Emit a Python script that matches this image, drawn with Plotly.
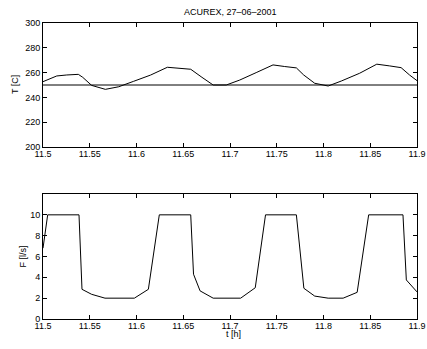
import plotly.graph_objects as go

# Temperature (top panel)
t_T = [11.5, 11.5147, 11.5254, 11.5378, 11.5425, 11.552, 11.5667, 11.581, 11.597, 11.615,
       11.633, 11.6465, 11.658, 11.67, 11.682, 11.696, 11.7104, 11.728, 11.746, 11.7585,
       11.771, 11.7788, 11.7906, 11.805, 11.819, 11.8387, 11.857, 11.8708, 11.883, 11.892, 11.9]
T_vals = [252.7, 257.3, 258.1, 258.6, 256.2, 249.7, 246.5, 248.6, 253.0, 258.0,
          264.3, 263.2, 262.7, 256.2, 250.0, 250.0, 254.0, 260.0, 266.2, 264.9,
          263.8, 258.1, 251.4, 249.2, 253.2, 259.5, 266.8, 265.4, 264.0, 258.1, 253.5]
t_ref = [11.5, 11.9]
T_ref = [250, 250]

# Flow (bottom panel)
t_F = [11.5, 11.505, 11.5385, 11.5417, 11.552, 11.5663, 11.5977, 11.6127, 11.6244, 11.658,
       11.661, 11.668, 11.682, 11.7114, 11.727, 11.738, 11.771, 11.779, 11.7906, 11.805,
       11.821, 11.836, 11.8483, 11.885, 11.8886, 11.9]
F_vals = [6.8, 10, 10, 2.85, 2.37, 2.0, 2.0, 2.85, 10, 10,
          4.3, 2.7, 2.0, 2.0, 3.0, 10, 10, 2.95, 2.2, 2.0,
          2.0, 2.56, 10, 10, 3.75, 2.6]

x_ticks = [11.5, 11.55, 11.6, 11.65, 11.7, 11.75, 11.8, 11.85, 11.9]
x_ticklabels = ["11.5", "11.55", "11.6", "11.65", "11.7", "11.75", "11.8", "11.85", "11.9"]
T_ticks = [200, 220, 240, 260, 280, 300]
F_ticks = [0, 2, 4, 6, 8, 10]

FONT = "Liberation Sans, Arial, sans-serif"
TF = dict(family=FONT, size=9, color="black")

fig = go.Figure()
line = dict(color="black", width=1)
fig.add_trace(go.Scatter(x=t_T, y=T_vals, mode="lines", line=line, xaxis="x", yaxis="y"))
fig.add_trace(go.Scatter(x=t_ref, y=T_ref, mode="lines", line=line, xaxis="x", yaxis="y"))
fig.add_trace(go.Scatter(x=t_F, y=F_vals, mode="lines", line=line, xaxis="x2", yaxis="y2"))

ax_common = dict(showline=True, linecolor="black", linewidth=1, mirror="ticks",
                 ticks="inside", ticklen=4, tickcolor="black", tickwidth=1,
                 showgrid=False, zeroline=False, tickfont=TF)

TOP_DOM = [0.581, 1]
BOT_DOM = [0, 0.4223]

fig.update_layout(
    width=427, height=349,
    margin=dict(l=43, r=10, t=23, b=30, autoexpand=False),
    paper_bgcolor="white", plot_bgcolor="white",
    showlegend=False,
    font=TF,
    xaxis=dict(domain=[0, 1], range=[11.5, 11.9], tickvals=x_ticks, ticktext=x_ticklabels,
               anchor="y", ticklabelstandoff=-2, **ax_common),
    yaxis=dict(domain=TOP_DOM, range=[200, 300], tickvals=T_ticks, anchor="x", **ax_common),
    xaxis2=dict(domain=[0, 1], range=[11.5, 11.9], tickvals=x_ticks, ticktext=x_ticklabels,
                anchor="y2", ticklabelstandoff=-2, **ax_common),
    yaxis2=dict(domain=BOT_DOM, range=[0, 12], tickvals=F_ticks, anchor="x2", **ax_common),
    annotations=[
        dict(text="ACUREX, 27–06–2001", x=0.5, y=1, xref="paper", yref="paper",
             xanchor="center", yanchor="middle", yshift=11, showarrow=False, font=TF),
        dict(text="T [C]", x=0, y=(TOP_DOM[0] + TOP_DOM[1]) / 2, xref="paper", yref="paper",
             xanchor="center", yanchor="middle", xshift=-28, textangle=-90,
             showarrow=False, font=TF),
        dict(text="F [l/s]", x=0, y=(BOT_DOM[0] + BOT_DOM[1]) / 2, xref="paper", yref="paper",
             xanchor="center", yanchor="middle", xshift=-20, textangle=-90,
             showarrow=False, font=TF),
        dict(text="t [h]", x=0.5, y=0, xref="paper", yref="paper",
             xanchor="center", yanchor="middle", xshift=3, yshift=-15,
             showarrow=False, font=TF),
    ],
)

fig.write_html("out.html", config={"displayModeBar": False},
               post_script="document.body.style.margin='0';")
